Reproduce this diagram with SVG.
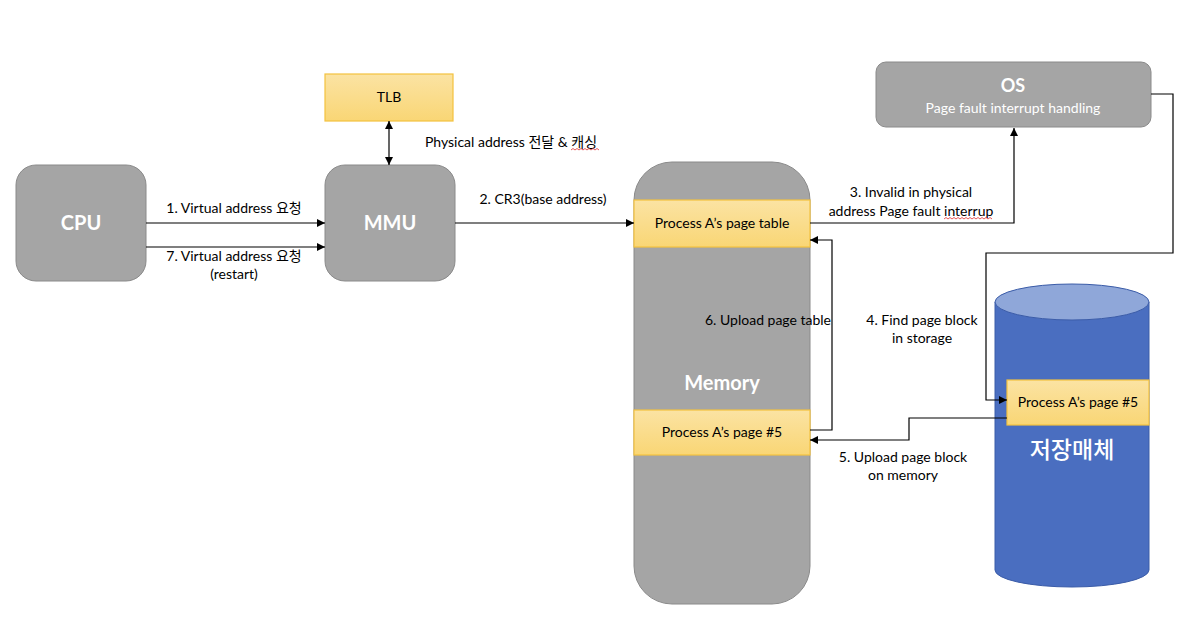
<svg xmlns="http://www.w3.org/2000/svg" width="1183" height="630" viewBox="0 0 1183 630">
<defs>
<linearGradient id="yel" x1="0" y1="0" x2="0" y2="1">
<stop offset="0" stop-color="#fbe3a3"/>
<stop offset="1" stop-color="#f9d675"/>
</linearGradient>
<marker id="arr" viewBox="0 0 10 10" refX="10" refY="5" markerWidth="8" markerHeight="8" markerUnits="userSpaceOnUse" orient="auto-start-reverse">
<path d="M0,0 L10,5 L0,10 z" fill="#000"/>
</marker>
<style>
.gray{fill:#a5a5a5;stroke:#8a8a8a;stroke-width:1}
.yel{fill:url(#yel);stroke:#f3c23f;stroke-width:1.2}
.big{font-family:Lato,"Noto Sans CJK KR",sans-serif;fill:#fff;text-anchor:middle}
.bold{font-weight:bold}
.lbl{font-family:Lato,"Noto Sans CJK KR",sans-serif;font-size:14px;fill:#000;text-anchor:middle}
.ln{fill:none;stroke:#000;stroke-width:1.2}
.sq{fill:none;stroke:#e03030;stroke-width:0.8}
</style>
</defs>
<rect width="1183" height="630" fill="#fff"/>

<g id="cpu">
<rect class="gray" x="16" y="165" width="130" height="116" rx="20"/>
<text class="big bold" x="81" y="230" font-size="20">CPU</text>
</g>
<g id="mmu">
<rect class="gray" x="325" y="165" width="130" height="116" rx="20"/>
<text class="big bold" x="390" y="230" font-size="20">MMU</text>
</g>
<g id="tlb">
<rect class="yel" x="325" y="74" width="128" height="47"/>
<text class="lbl" x="389" y="102" font-size="13">TLB</text>
</g>
<g id="os">
<rect class="gray" x="876" y="62" width="275" height="65" rx="10"/>
<text class="big bold" x="1013" y="92" font-size="18">OS</text>
<text class="big" x="1013" y="113" font-size="14">Page fault interrupt handling</text>
</g>
<g id="memory">
<rect class="gray" x="634" y="162" width="176" height="442" rx="38"/>
<text class="big bold" x="722" y="390" font-size="20">Memory</text>
</g>
<g id="pagetable">
<rect class="yel" x="634" y="200" width="176" height="47"/>
<text class="lbl" x="722" y="228">Process A’s page table</text>
</g>
<g id="mempage5">
<rect class="yel" x="634" y="410" width="176" height="45"/>
<text class="lbl" x="722" y="437">Process A’s page #5</text>
</g>
<g id="storage">
<path d="M995,302 V570 A77,17 0 0 0 1149,570 V302" fill="#4a6ec0" stroke="#3b5ca8" stroke-width="1"/>
<ellipse cx="1072" cy="302" rx="77" ry="18" fill="#8fa7d9" stroke="#3b5ca8" stroke-width="1"/>
<text class="big" x="1072" y="458" font-size="23" font-weight="500">저장매체</text>
</g>
<g id="storagepage5">
<rect class="yel" x="1007" y="380" width="142" height="45"/>
<text class="lbl" x="1078" y="407">Process A’s page #5</text>
</g>

<g id="connectors">
<path class="ln" d="M146,223 H325" marker-end="url(#arr)"/>
<path class="ln" d="M146,247 H325" marker-end="url(#arr)"/>
<path class="ln" d="M389,121 V165" marker-start="url(#arr)" marker-end="url(#arr)"/>
<path class="ln" d="M455,223 H634" marker-end="url(#arr)"/>
<path class="ln" d="M810,223 H1014 V128" marker-end="url(#arr)"/>
<path class="ln" d="M1151,94 H1173 V253 H986 V400 H1007" marker-end="url(#arr)"/>
<path class="ln" d="M1007,418 H909 V440 H810" marker-end="url(#arr)"/>
<path class="ln" d="M810,430 H832 V240 H810" marker-end="url(#arr)"/>
</g>

<g id="labels">
<text class="lbl" x="234" y="213">1. Virtual address 요청</text>
<text class="lbl" x="234" y="261">7. Virtual address 요청</text>
<text class="lbl" x="234" y="279">(restart)</text>
<text class="lbl" x="511" y="147">Physical address 전달 &amp; 캐싱</text>
<text class="lbl" x="543" y="204">2. CR3(base address)</text>
<text class="lbl" x="911" y="197">3. Invalid in physical</text>
<text class="lbl" x="911" y="216">address Page fault interrup</text>
<text class="lbl" x="922" y="325">4. Find page block</text>
<text class="lbl" x="922" y="343">in storage</text>
<text class="lbl" x="768" y="325">6. Upload page table</text>
<text class="lbl" x="903" y="462">5. Upload page block</text>
<text class="lbl" x="903" y="480">on memory</text>
<path class="sq" d="M571,150 l2,-1.5 l2,1.5 l2,-1.5 l2,1.5 l2,-1.5 l2,1.5 l2,-1.5 l2,1.5 l2,-1.5 l2,1.5 l2,-1.5 l2,1.5 l2,-1.5 l2,1.5"/>
<path class="sq" d="M944,219 l2,-1.5 l2,1.5 l2,-1.5 l2,1.5 l2,-1.5 l2,1.5 l2,-1.5 l2,1.5 l2,-1.5 l2,1.5 l2,-1.5 l2,1.5 l2,-1.5 l2,1.5 l2,-1.5 l2,1.5 l2,-1.5 l2,1.5 l2,-1.5 l2,1.5 l2,-1.5 l2,1.5 l2,-1.5 l2,1.5"/>
</g>
</svg>
